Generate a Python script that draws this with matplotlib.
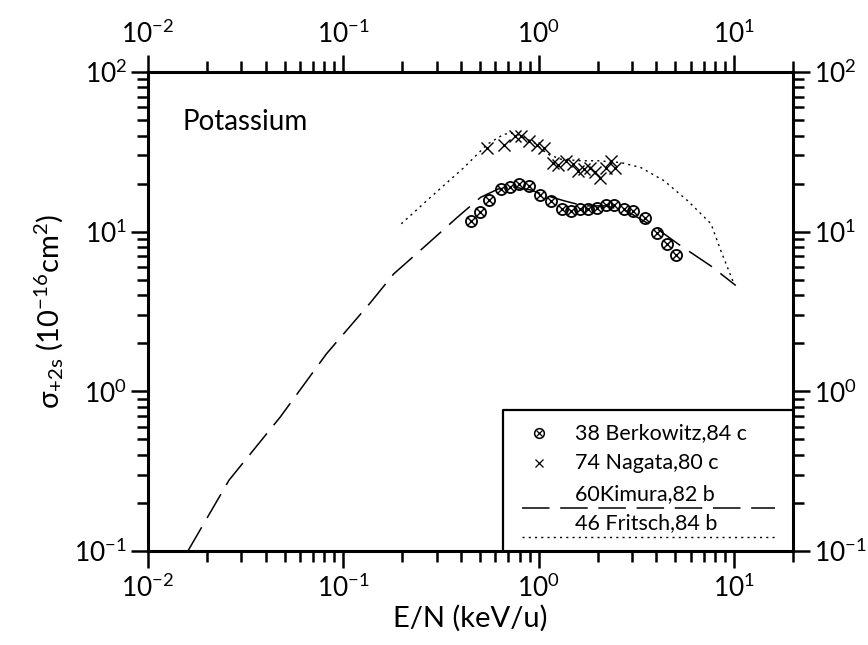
import numpy as np
import matplotlib
matplotlib.use("Agg")
import matplotlib.pyplot as plt
from matplotlib.ticker import LogLocator, NullFormatter

plt.rcParams["font.family"] = ["Lato", "DejaVu Sans"]
plt.rcParams["mathtext.fontset"] = "custom"
plt.rcParams["mathtext.rm"] = "Lato"
plt.rcParams["mathtext.it"] = "Lato"
plt.rcParams["axes.unicode_minus"] = False

# Berkowitz,84 c (circled crosses)
berk_x = [0.448, 0.498, 0.556, 0.644, 0.713, 0.792, 0.892, 1.01, 1.15, 1.31, 1.46,
          1.62, 1.79, 1.98, 2.21, 2.43, 2.72, 3.03, 3.50, 4.03, 4.53, 5.06]
berk_y = [11.6, 13.3, 15.8, 18.5, 19.1, 19.9, 19.2, 17.0, 15.5, 13.9, 13.4,
          13.8, 13.9, 14.1, 14.7, 14.6, 13.8, 13.5, 12.1, 9.8, 8.4, 7.1]

# Nagata,80 c (crosses)
nag_x = [0.546, 0.664, 0.753, 0.815, 0.892, 0.985, 1.07, 1.18, 1.26, 1.38, 1.49,
         1.59, 1.71, 1.83, 1.94, 2.06, 2.21, 2.34, 2.45]
nag_y = [33.3, 35.0, 39.8, 39.8, 37.0, 35.0, 33.3, 27.1, 26.2, 27.8, 26.5,
         24.1, 24.7, 25.2, 23.5, 21.7, 25.2, 27.8, 25.2]

# Kimura,82 b (dashed)
kim_x = [0.016, 0.026, 0.0475, 0.082, 0.138, 0.181, 0.258, 0.383, 0.504, 0.62, 0.75,
         0.9, 1.1, 1.35, 1.7, 2.2, 2.8, 3.2, 4.0, 5.15, 7.6, 10.2]
kim_y = [0.1, 0.278, 0.69, 1.72, 3.61, 5.44, 7.98, 12.3, 16.4, 18.5, 19.0,
         18.3, 16.8, 15.6, 14.5, 14.5, 13.5, 12.3, 10.5, 8.4, 6.1, 4.6]

# Fritsch,84 b (dotted)
fri_x = [0.198, 0.279, 0.414, 0.546, 0.664, 0.747, 0.946, 1.11, 1.30, 1.64, 2.0,
         2.63, 3.33, 4.39, 5.79, 7.62, 8.55, 10.0]
fri_y = [11.2, 16.4, 25.2, 35.3, 40.8, 41.5, 36.2, 30.6, 28.4, 27.8, 27.8,
         27.1, 25.2, 20.8, 15.6, 11.2, 7.6, 4.7]

fig = plt.figure(figsize=(8.68, 6.45), dpi=100)
ax = fig.add_axes([0.1705, 0.1457, 0.743, 0.7427])

ax.plot(kim_x, kim_y, color="black", lw=1.1, dashes=(18, 7))
ax.plot(fri_x, fri_y, color="black", lw=1.0, ls=(0, (1.5, 3)))
ax.plot(berk_x, berk_y, ls="none", marker="o", ms=8, mfc="none", mec="black", mew=1.3)
ax.plot(berk_x, berk_y, ls="none", marker="x", ms=5.5, color="black", mew=1.0)
ax.plot(nag_x, nag_y, ls="none", marker="x", ms=8, color="black", mew=1.0)

ax.set_xscale("log")
ax.set_yscale("log")
ax.set_xlim(1e-2, 20)
ax.set_ylim(1e-1, 1e2)

for a in (ax.xaxis, ax.yaxis):
    a.set_major_locator(LogLocator(base=10, numticks=10))
    a.set_minor_locator(LogLocator(base=10, subs=np.arange(2, 10), numticks=10))
    a.set_minor_formatter(NullFormatter())

ax.tick_params(which="both", direction="out", top=True, right=True,
               labeltop=True, labelright=True, labelsize=19, width=1.8)
ax.tick_params(which="major", length=12, pad=5)
ax.tick_params(axis="y", which="major", pad=3)
ax.tick_params(which="minor", length=8)
for s in ax.spines.values():
    s.set_linewidth(2.2)

ax.set_xlabel("E/N (keV/u)", fontsize=21, labelpad=2)
ax.set_ylabel(r"$\sigma_{+2s}$ (10$^{-16}$cm$^{2}$)", fontsize=21, labelpad=6)

ax.text(0.053, 0.896, "Potassium", transform=ax.transAxes, fontsize=20,
        va="center", ha="left")

# legend box drawn in axes coordinates
T = ax.transAxes
ax.plot([0.55, 0.55, 1.0], [0.0, 0.294, 0.294], transform=T, color="black", lw=1.6,
        clip_on=False)
fs = 15.5
ax.plot([0.606], [0.246], transform=T, marker="o", ms=7, mfc="none", mec="black", mew=1.1)
ax.plot([0.606], [0.246], transform=T, marker="x", ms=4.5, color="black", mew=0.9)
ax.text(0.662, 0.246, "38 Berkowitz,84 c", transform=T, fontsize=fs, va="center")
ax.plot([0.606], [0.184], transform=T, marker="x", ms=6, color="black", mew=0.9)
ax.text(0.662, 0.184, "74 Nagata,80 c", transform=T, fontsize=fs, va="center")
ax.text(0.662, 0.119, "60Kimura,82 b", transform=T, fontsize=fs, va="center")
ax.plot([0.58, 0.972], [0.09, 0.09], transform=T, color="black", lw=1.1, dashes=(18, 7))
ax.text(0.662, 0.0585, "46 Fritsch,84 b", transform=T, fontsize=fs, va="center")
ax.plot([0.58, 0.972], [0.029, 0.029], transform=T, color="black", lw=1.0, ls=(0, (1.5, 3)))

fig.savefig("out.png", dpi=100)
